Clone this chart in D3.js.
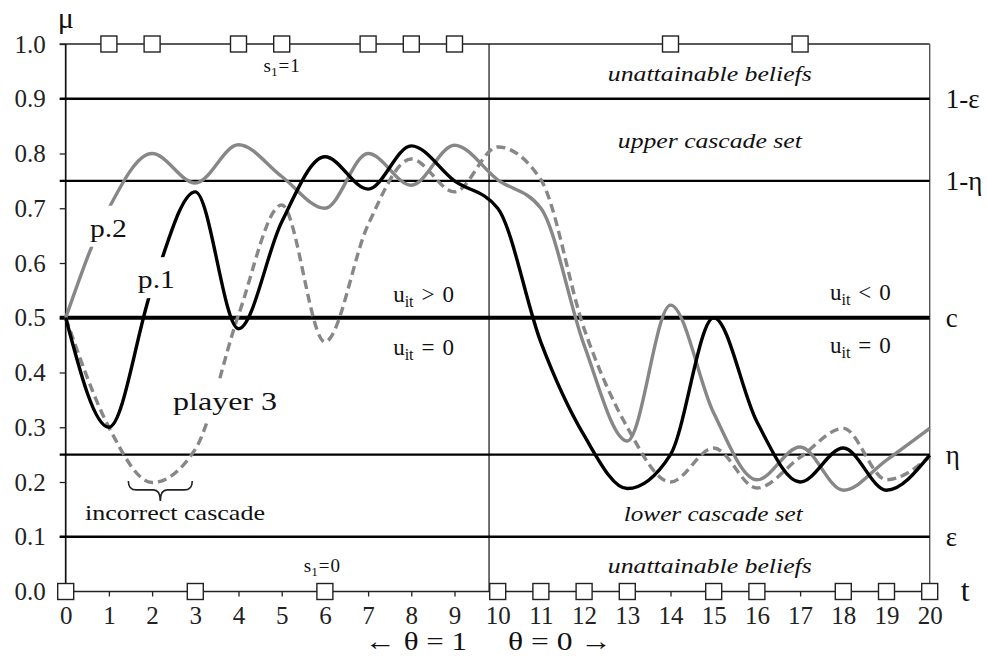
<!DOCTYPE html>
<html lang="en">
<head>
<meta charset="UTF-8">
<title>Beliefs and cascades</title>
<script src="https://d3js.org/d3.v7.min.js"></script>
<style>
  body { margin: 0; background: #fff; }
  text { font-family: 'Liberation Serif', 'Times New Roman', 'DejaVu Serif', serif; }
</style>
</head>
<body>
<svg id="chart" width="987" height="664"></svg>
<script>
// time periods
const periods = d3.range(0, 21);

// public beliefs mu, one per period
const player1 = [0.50, 0.30, 0.555, 0.73, 0.48, 0.675, 0.794, 0.735, 0.814, 0.75, 0.70,
                 0.455, 0.285, 0.188, 0.25, 0.50, 0.31, 0.20, 0.262, 0.185, 0.249];
const player2 = [0.50, 0.70, 0.80, 0.746, 0.816, 0.758, 0.70, 0.80, 0.742, 0.815, 0.752,
                 0.70, 0.45, 0.275, 0.523, 0.326, 0.204, 0.264, 0.185, 0.24, 0.298];
const player3 = [0.50, 0.30, 0.199, 0.26, 0.505, 0.706, 0.456, 0.67, 0.79, 0.73, 0.812,
                 0.752, 0.48, 0.30, 0.20, 0.262, 0.189, 0.245, 0.298, 0.204, 0.246];

// periods with signal s=1 (top) and s=0 (bottom)
const signalHigh = [1, 2, 4, 5, 7, 8, 9, 14, 17];
const signalLow = [0, 3, 6, 10, 11, 12, 13, 15, 16, 18, 19, 20];

// threshold lines and their names
const thresholdValues = [0.9, 0.75, 0.5, 0.25, 0.1];
const thresholdLabels = ["1-ε", "1-η", "c", "η", "ε"];

const yTicks = d3.range(0, 11).map(d => d / 10);
const switchTime = 9.8;   // state switches from theta=1 to theta=0

const FONT = "'Liberation Serif', 'Times New Roman', 'DejaVu Serif', serif";

const svg = d3.select("#chart").attr("font-family", FONT);
const x = d3.scaleLinear().domain([0, 20]).range([65.7, 929.7]);
const y = d3.scaleLinear().domain([0, 1]).range([591.5, 44]);

// ---------- frame ----------
[0, 1].forEach(v => {
  svg.append("line")
    .attr("x1", x(0) - 6).attr("x2", x(20))
    .attr("y1", y(v)).attr("y2", y(v))
    .attr("stroke", "#222").attr("stroke-width", 1.4);
});
svg.append("line")
  .attr("x1", x(0)).attr("x2", x(0)).attr("y1", y(1)).attr("y2", y(0))
  .attr("stroke", "#111").attr("stroke-width", 1.7);
svg.append("line")
  .attr("x1", x(20)).attr("x2", x(20)).attr("y1", y(1)).attr("y2", y(0))
  .attr("stroke", "#555").attr("stroke-width", 1.4);
svg.append("line")
  .attr("x1", x(switchTime)).attr("x2", x(switchTime)).attr("y1", y(1)).attr("y2", y(0))
  .attr("stroke", "#222").attr("stroke-width", 1.3);

// ---------- axes ----------
const yAxis = svg.append("g")
  .attr("transform", `translate(${x(0)},0)`)
  .call(d3.axisLeft(y).tickValues(yTicks).tickFormat(d3.format(".1f")).tickSize(6).tickPadding(14));
yAxis.attr("font-family", FONT).attr("font-size", null);
yAxis.select(".domain").remove();
yAxis.selectAll("line").attr("stroke", "#222").attr("stroke-width", 1.3);
yAxis.selectAll("text").attr("font-family", FONT).attr("font-size", 25).attr("fill", "#222");

const xAxis = svg.append("g")
  .attr("transform", `translate(0,${y(0)})`)
  .call(d3.axisBottom(x).tickValues(periods).tickSize(5).tickPadding(10));
xAxis.attr("font-family", FONT).attr("font-size", null);
xAxis.select(".domain").remove();
xAxis.selectAll("line").attr("stroke", "#222").attr("stroke-width", 1.3);
xAxis.selectAll("text").attr("font-family", FONT).attr("font-size", 25).attr("fill", "#222");

// ---------- threshold lines ----------
svg.selectAll(".threshold")
  .data(thresholdValues)
  .enter()
  .append("line")
  .attr("class", "threshold")
  .attr("x1", x(0) - 6).attr("x2", x(20))
  .attr("y1", d => y(d)).attr("y2", d => y(d))
  .attr("stroke", "#000")
  .attr("stroke-width", d => d === 0.5 ? 4.2 : 2.4);

svg.selectAll(".thlabel")
  .data(thresholdValues)
  .enter()
  .append("text")
  .attr("class", "thlabel")
  .attr("x", x(20) + 16)
  .attr("y", d => y(d))
  .attr("dy", "0.35em")
  .attr("font-family", FONT)
  .attr("font-size", 27)
  .attr("fill", "#111")
  .text((d, i) => thresholdLabels[i]);

// ---------- belief paths ----------
const line = d3.line()
  .x((d, i) => x(periods[i]))
  .y(d => y(d))
  .curve(d3.curveMonotoneX);

svg.append("path").datum(player2)
  .attr("fill", "none").attr("stroke", "#878787").attr("stroke-width", 3.4)
  .attr("d", line);
svg.append("path").datum(player3)
  .attr("fill", "none").attr("stroke", "#878787").attr("stroke-width", 3.4)
  .attr("stroke-dasharray", "9,5")
  .attr("d", line);
svg.append("path").datum(player1)
  .attr("fill", "none").attr("stroke", "#000").attr("stroke-width", 3.4)
  .attr("d", line);

// ---------- labels ----------
function label(text, px, py, opts = {}) {
  const t = svg.append("text")
    .attr("x", px).attr("y", py)
    .attr("font-family", FONT)
    .attr("font-size", opts.size || 22)
    .attr("fill", "#111")
    .attr("text-anchor", opts.anchor || "start")
    .text(text);
  if (opts.italic) t.attr("font-style", "italic");
  if (opts.width) t.attr("textLength", opts.width).attr("lengthAdjust", "spacingAndGlyphs");
  if (opts.knockout) {
    const b = t.node().getBBox();
    svg.insert("rect", () => t.node())
      .attr("x", b.x - 3).attr("y", b.y - 9)
      .attr("width", b.width + 6).attr("height", b.height + 14)
      .attr("fill", "#fff");
  }
  return t;
}

// math label: base letter with subscript, then relation and value with gaps
function subLabel(base, sub, parts, px, py, size, gap, anchor) {
  const t = svg.append("text")
    .attr("x", px).attr("y", py)
    .attr("font-family", FONT)
    .attr("font-size", size).attr("fill", "#111")
    .attr("text-anchor", anchor || "start");
  t.append("tspan").text(base);
  t.append("tspan").attr("font-size", size * 0.7).attr("dy", size * 0.22).text(sub);
  parts.forEach((p, i) => {
    const s = t.append("tspan").attr("dx", gap).text(p);
    if (i === 0) s.attr("dy", -size * 0.22);
  });
  return t;
}

subLabel("s", "1", ["=", "1"], x(5.0), y(0.949), 19, 1, "middle");
subLabel("s", "1", ["=", "0"], x(5.93), y(0.036), 19, 1, "middle");

label("unattainable beliefs", x(14.91), y(0.932), {italic: true, anchor: "middle", size: 22, width: 204});
label("unattainable beliefs", x(14.91), y(0.034), {italic: true, anchor: "middle", size: 22, width: 204});
label("upper cascade set", x(14.91), y(0.81), {italic: true, anchor: "middle", size: 22, width: 184});
label("lower cascade set", x(14.99), y(0.128), {italic: true, anchor: "middle", size: 22, width: 179});

subLabel("u", "it", [">", "0"], x(7.58), y(0.529), 23, 8);
subLabel("u", "it", ["=", "0"], x(7.58), y(0.432), 23, 8);
subLabel("u", "it", ["<", "0"], x(17.69), y(0.532), 23, 8);
subLabel("u", "it", ["=", "0"], x(17.69), y(0.436), 23, 8);

label("p.2", x(0.56), y(0.648), {size: 25, width: 37, knockout: true});
label("p.1", x(1.67), y(0.554), {size: 25, width: 37, knockout: true});
label("player 3", x(2.485), y(0.332), {size: 25, width: 104, knockout: true});
label("incorrect cascade", x(0.447), y(0.130), {size: 21, width: 180});

// brace under the incorrect cascade
const bx0 = x(1.45), bx1 = x(2.93), bm = (bx0 + bx1) / 2, by = y(0.202);
svg.append("path")
  .attr("d", `M${bx0},${by} q0,9 8,9 L${bm - 7},${by + 9} q7,0 7,11 q0,-11 7,-11 L${bx1 - 8},${by + 9} q8,0 8,-9`)
  .attr("fill", "none").attr("stroke", "#222").attr("stroke-width", 1.6);

// axis names
label("μ", x(0) - 8, 28, {size: 30});
label("t", x(20) + 31, y(0) + 9, {size: 32});
label("← θ = 1", x(6.93), 650, {size: 26, width: 102});
label("θ = 0 →", x(10.24), 650, {size: 26, width: 104});

// ---------- signal boxes ----------
const box = 16;
svg.selectAll(".boxHigh")
  .data(signalHigh)
  .enter()
  .append("rect")
  .attr("class", "boxHigh")
  .attr("x", d => x(d) - box / 2).attr("y", y(1) - box / 2)
  .attr("width", box).attr("height", box)
  .attr("fill", "#fff").attr("stroke", "#222").attr("stroke-width", 1.4);
svg.selectAll(".boxLow")
  .data(signalLow)
  .enter()
  .append("rect")
  .attr("class", "boxLow")
  .attr("x", d => x(d) - box / 2).attr("y", y(0) - box / 2)
  .attr("width", box).attr("height", box)
  .attr("fill", "#fff").attr("stroke", "#222").attr("stroke-width", 1.4);
</script>
</body>
</html>
